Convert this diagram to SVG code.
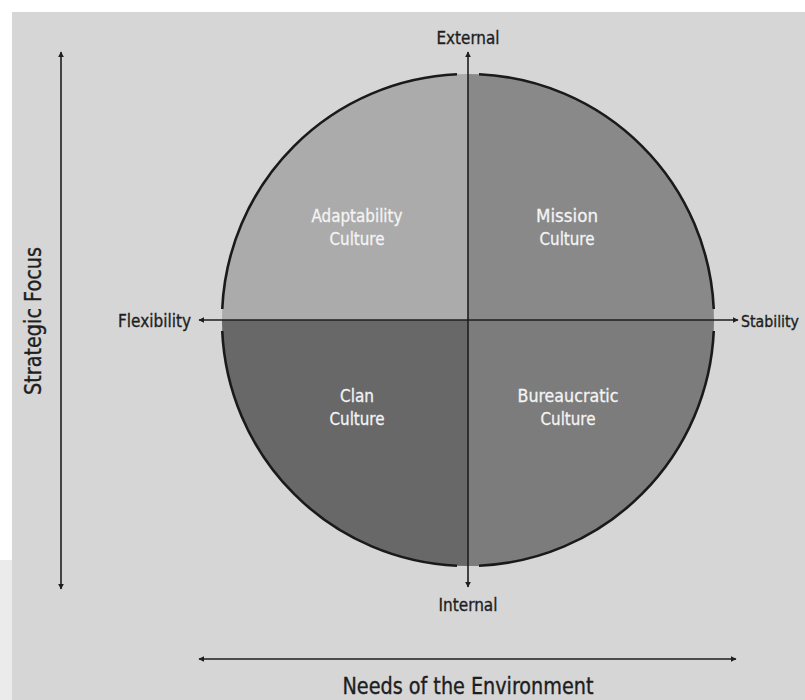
<svg xmlns="http://www.w3.org/2000/svg" width="805" height="700" viewBox="0 0 805 700">
  <style>
    .lbl { font-family: "DejaVu Sans Condensed", "Liberation Sans", sans-serif; fill: #1e1e1e; stroke: #1e1e1e; stroke-width: 0.35; }
    .axis { font-size: 18.5px; }
    .title { font-size: 23px; }
    .q { font-family: "DejaVu Sans Condensed", "Liberation Sans", sans-serif; font-size: 18.5px; fill: #f4f4f4; stroke: #f4f4f4; stroke-width: 0.3; text-anchor: middle; }
    .ln { stroke: #1e1e1e; stroke-width: 1.6; fill: none; }
    .rim { stroke: #1a1a1a; stroke-width: 2.6; fill: none; }
  </style>
  <defs>
    <marker id="ah" viewBox="0 0 10 10" refX="9" refY="5" markerWidth="6" markerHeight="6" orient="auto-start-reverse" markerUnits="userSpaceOnUse">
      <path d="M0,0 L10,5 L0,10 Z" fill="#1e1e1e"/>
    </marker>
  </defs>

  <!-- page -->
  <rect x="0" y="0" width="805" height="700" fill="#ffffff"/>
  <rect x="0" y="560" width="12" height="140" fill="#ebebeb"/>
  <rect x="12" y="12" width="793" height="688" fill="#d6d6d6"/>

  <!-- quadrants -->
  <g id="adaptability">
    <path d="M468,320 L222,320 A246,246 0 0 1 468,74 Z" fill="#ababab"/>
    <text class="q" x="357" y="222" textLength="91" lengthAdjust="spacingAndGlyphs">Adaptability</text>
    <text class="q" x="357" y="245" textLength="55" lengthAdjust="spacingAndGlyphs">Culture</text>
  </g>
  <g id="mission">
    <path d="M468,320 L468,74 A246,246 0 0 1 714,320 Z" fill="#898989"/>
    <text class="q" x="567" y="222" textLength="62" lengthAdjust="spacingAndGlyphs">Mission</text>
    <text class="q" x="567" y="245" textLength="55" lengthAdjust="spacingAndGlyphs">Culture</text>
  </g>
  <g id="clan">
    <path d="M468,320 L468,566 A246,246 0 0 1 222,320 Z" fill="#686868"/>
    <text class="q" x="357" y="402" textLength="34" lengthAdjust="spacingAndGlyphs">Clan</text>
    <text class="q" x="357" y="425" textLength="55" lengthAdjust="spacingAndGlyphs">Culture</text>
  </g>
  <g id="bureaucratic">
    <path d="M468,320 L714,320 A246,246 0 0 1 468,566 Z" fill="#7c7c7c"/>
    <text class="q" x="568" y="402" textLength="101" lengthAdjust="spacingAndGlyphs">Bureaucratic</text>
    <text class="q" x="568" y="425" textLength="55" lengthAdjust="spacingAndGlyphs">Culture</text>
  </g>

  <!-- circle rim, broken where the axes cross -->
  <g id="rim">
    <path class="rim" d="M479,74.25 A246,246 0 0 1 713.75,309"/>
    <path class="rim" d="M713.75,331 A246,246 0 0 1 479,565.75"/>
    <path class="rim" d="M457,565.75 A246,246 0 0 1 222.25,331"/>
    <path class="rim" d="M222.25,309 A246,246 0 0 1 457,74.25"/>
  </g>

  <!-- connectors -->
  <g id="connectors">
    <line class="ln" x1="468" y1="587" x2="468" y2="52" marker-end="url(#ah)" marker-start="url(#ah)"/>
    <line class="ln" x1="199" y1="320" x2="738" y2="320" marker-end="url(#ah)" marker-start="url(#ah)"/>
    <line class="ln" x1="61" y1="52" x2="61" y2="589" marker-end="url(#ah)" marker-start="url(#ah)"/>
    <line class="ln" x1="199" y1="659" x2="736" y2="659" marker-end="url(#ah)" marker-start="url(#ah)"/>
  </g>

  <!-- axis labels -->
  <g id="labels">
    <text class="lbl axis" x="468" y="44" text-anchor="middle" textLength="63" lengthAdjust="spacingAndGlyphs">External</text>
    <text class="lbl axis" x="468" y="611" text-anchor="middle" textLength="59" lengthAdjust="spacingAndGlyphs">Internal</text>
    <text class="lbl axis" x="118" y="327" textLength="73" lengthAdjust="spacingAndGlyphs">Flexibility</text>
    <text class="lbl" x="741" y="327" font-size="16.5" textLength="58" lengthAdjust="spacingAndGlyphs">Stability</text>
    <text class="lbl title" x="468" y="694" text-anchor="middle" textLength="251" lengthAdjust="spacingAndGlyphs">Needs of the Environment</text>
    <text class="lbl title" transform="translate(41,321) rotate(-90)" text-anchor="middle" textLength="148" lengthAdjust="spacingAndGlyphs">Strategic Focus</text>
  </g>
</svg>
